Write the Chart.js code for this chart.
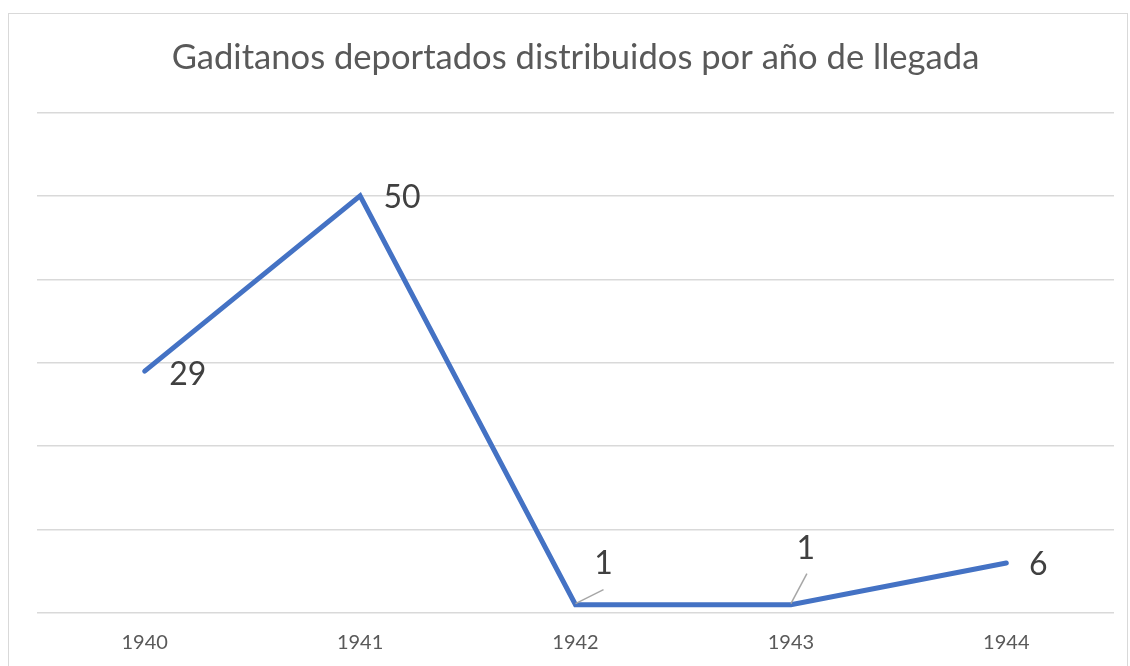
<!DOCTYPE html>
<html>
<head>
<meta charset="utf-8">
<script src="https://cdn.jsdelivr.net/npm/chart.js@4.4.0/dist/chart.umd.min.js"></script>
<style>
  html, body { margin: 0; padding: 0; background: #ffffff; overflow: hidden; }
  #frame { position: absolute; left: 8px; top: 13px; width: 1120px; height: 700px; border: 1px solid #d9d9d9; box-sizing: border-box; }
  #wrap { position: absolute; left: 0; top: 0; width: 1130px; height: 666px; }
</style>
</head>
<body>
<div id="frame"></div>
<div id="wrap"><canvas id="c" width="1130" height="666"></canvas></div>
<script>
const chartTitle = "Gaditanos deportados distribuidos por año de llegada";
const categories = ["1940", "1941", "1942", "1943", "1944"];
const deportados = [29, 50, 1, 1, 6];
const yTicks = [0, 10, 20, 30, 40, 50, 60];

const FONT = "Lato, 'Open Sans', sans-serif";

// label placement relative to each point (dx, dy of text center; leader end offset)
const labelPlacement = [
  { dx: 43, dy: 4, leader: null },
  { dx: 42, dy: 2, leader: null },
  { dx: 28, dy: -41, leader: [28, -15] },
  { dx: 15, dy: -56, leader: [16, -31] },
  { dx: 32, dy: 2, leader: null }
];

const dataLabels = {
  id: 'dataLabels',
  afterDatasetsDraw(chart) {
    const ctx = chart.ctx;
    const meta = chart.getDatasetMeta(0);
    const ds = chart.data.datasets[0];
    ctx.save();
    ctx.font = "32px " + FONT;
    ctx.fillStyle = "#404040";
    ctx.textAlign = "center";
    ctx.textBaseline = "middle";
    meta.data.forEach((pt, i) => {
      const p = labelPlacement[i];
      if (p.leader) {
        ctx.strokeStyle = "#a6a6a6";
        ctx.lineWidth = 1.5;
        ctx.beginPath();
        ctx.moveTo(pt.x, pt.y - 1);
        ctx.lineTo(pt.x + p.leader[0], pt.y + p.leader[1]);
        ctx.stroke();
      }
      ctx.fillText(String(ds.data[i]), pt.x + p.dx, pt.y + p.dy);
    });
    ctx.restore();
  }
};

new Chart(document.getElementById('c'), {
  type: 'line',
  data: {
    labels: categories,
    datasets: [{
      data: deportados,
      borderColor: '#4472c4',
      borderWidth: 5,
      pointRadius: 0,
      pointHoverRadius: 0,
      tension: 0,
      borderCapStyle: 'round',
      borderJoinStyle: 'miter',
      fill: false
    }]
  },
  options: {
    responsive: false,
    animation: false,
    events: [],
    layout: { padding: { left: 37, right: 16, top: 0, bottom: 0 } },
    plugins: {
      legend: { display: false },
      tooltip: { enabled: false },
      title: {
        display: true,
        text: chartTitle,
        color: '#595959',
        font: { family: FONT, size: 34.6, weight: 'normal' },
        padding: { top: 37, bottom: 34 }
      }
    },
    scales: {
      x: {
        offset: true,
        grid: { display: false, drawTicks: false },
        border: { display: false },
        ticks: { color: '#595959', font: { family: FONT, size: 20 }, padding: 18, maxRotation: 0 },
        afterFit(scale) { scale.height = 53; }
      },
      y: {
        min: 0,
        max: 60,
        afterBuildTicks(scale) { scale.ticks = yTicks.map(v => ({ value: v })); },
        grid: { color: '#d9d9d9', lineWidth: 1.5, drawTicks: false },
        border: { display: false },
        ticks: { display: false }
      }
    }
  },
  plugins: [dataLabels]
});
</script>
</body>
</html>
